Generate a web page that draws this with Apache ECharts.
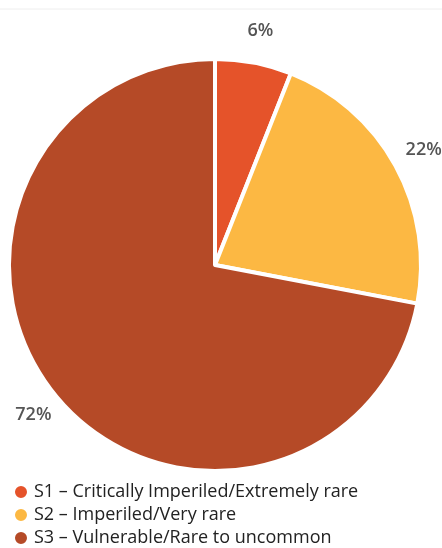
<!DOCTYPE html>
<html>
<head>
<meta charset="utf-8">
<script src="https://cdn.jsdelivr.net/npm/echarts@6/dist/echarts.min.js"></script>
<style>
html,body{margin:0;padding:0;background:#fff;}
#chart{width:442px;height:548px;}
</style>
</head>
<body>
<div id="chart"></div>
<script>
const categories = ["S1 – Critically Imperiled/Extremely rare", "S2 – Imperiled/Very rare", "S3 – Vulnerable/Rare to uncommon"];
const values = [6, 22, 72];
const colors = ["#E5532A", "#FCB843", "#B54A27"];

const chart = echarts.init(document.getElementById('chart'));
const pieData = categories.map((c, i) => ({ name: c, value: values[i], itemStyle: { color: colors[i] } }));
const labelData = categories.map((c, i) => ({ name: c, value: values[i] }));

chart.setOption({
  animation: false,
  color: colors,
  graphic: [{ type: 'line', shape: { x1: 0, y1: 9, x2: 442, y2: 9 }, style: { stroke: '#eeeeee', lineWidth: 1 } }],
  legend: {
    orient: 'vertical',
    left: 8,
    top: 478,
    height: 120,
    itemGap: 5,
    itemWidth: 14,
    itemHeight: 14,
    icon: 'circle',
    data: categories,
    textStyle: { fontFamily: 'Open Sans', fontSize: 18, color: '#222', padding: [0, 0, 0, 1] }
  },
  series: [
    {
      type: 'pie',
      center: [215, 265],
      radius: [0, 206],
      startAngle: 90,
      clockwise: true,
      data: pieData,
      itemStyle: { borderColor: '#fff', borderWidth: 4 },
      label: { show: false },
      labelLine: { show: false },
      silent: true
    },
    {
      type: 'pie',
      center: [216, 264],
      radius: [222, 246],
      startAngle: 90,
      clockwise: true,
      data: labelData,
      legendHoverLink: false,
      itemStyle: { color: 'rgba(0,0,0,0)' },
      label: {
        show: true,
        position: 'inside',
        formatter: '{c}%',
        fontFamily: 'Open Sans',
        fontSize: 18,
        fontWeight: 600,
        color: '#555'
      },
      labelLine: { show: false },
      silent: true
    }
  ]
});
</script>
</body>
</html>
